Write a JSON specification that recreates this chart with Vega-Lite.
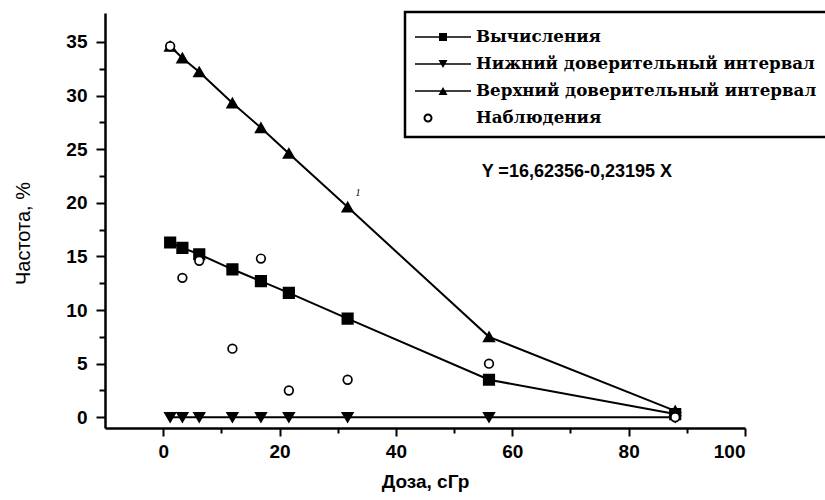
{
  "$schema": "https://vega.github.io/schema/vega-lite/v6.json",
  "width": 640,
  "height": 415,
  "autosize": {"type": "none"},
  "padding": {"left": 105, "top": 13, "right": 80, "bottom": 72},
  "background": "white",
  "config": {
    "view": {"stroke": null},
    "axis": {"grid": false, "domainColor": "black", "tickColor": "black", "labelColor": "black", "titleColor": "black"},
    "legend": {"strokeWidth": 2.5}
  },
  "datasets": {
    "series": [
      {"series": "Вычисления", "x": 1.2, "y": 16.3},
      {"series": "Вычисления", "x": 3.3, "y": 15.8},
      {"series": "Вычисления", "x": 6.2, "y": 15.2},
      {"series": "Вычисления", "x": 11.9, "y": 13.8},
      {"series": "Вычисления", "x": 16.8, "y": 12.7},
      {"series": "Вычисления", "x": 21.6, "y": 11.6},
      {"series": "Вычисления", "x": 31.7, "y": 9.2},
      {"series": "Вычисления", "x": 56, "y": 3.5},
      {"series": "Вычисления", "x": 88, "y": 0.3},
      {"series": "Нижний доверительный интервал", "x": 1.2, "y": 0},
      {"series": "Нижний доверительный интервал", "x": 3.3, "y": 0},
      {"series": "Нижний доверительный интервал", "x": 6.2, "y": 0},
      {"series": "Нижний доверительный интервал", "x": 11.9, "y": 0},
      {"series": "Нижний доверительный интервал", "x": 16.8, "y": 0},
      {"series": "Нижний доверительный интервал", "x": 21.6, "y": 0},
      {"series": "Нижний доверительный интервал", "x": 31.7, "y": 0},
      {"series": "Нижний доверительный интервал", "x": 56, "y": 0},
      {"series": "Нижний доверительный интервал", "x": 88, "y": 0},
      {"series": "Верхний доверительный интервал", "x": 1.2, "y": 34.6},
      {"series": "Верхний доверительный интервал", "x": 3.3, "y": 33.5},
      {"series": "Верхний доверительный интервал", "x": 6.2, "y": 32.2},
      {"series": "Верхний доверительный интервал", "x": 11.9, "y": 29.3},
      {"series": "Верхний доверительный интервал", "x": 16.8, "y": 27.0},
      {"series": "Верхний доверительный интервал", "x": 21.6, "y": 24.6},
      {"series": "Верхний доверительный интервал", "x": 31.7, "y": 19.6},
      {"series": "Верхний доверительный интервал", "x": 56, "y": 7.5},
      {"series": "Верхний доверительный интервал", "x": 88, "y": 0.6},
      {"series": "Наблюдения", "x": 1.2, "y": 34.6},
      {"series": "Наблюдения", "x": 3.3, "y": 13.0},
      {"series": "Наблюдения", "x": 6.2, "y": 14.6},
      {"series": "Наблюдения", "x": 11.9, "y": 6.4},
      {"series": "Наблюдения", "x": 16.8, "y": 14.8},
      {"series": "Наблюдения", "x": 21.6, "y": 2.5},
      {"series": "Наблюдения", "x": 31.7, "y": 3.5},
      {"series": "Наблюдения", "x": 56, "y": 5.0},
      {"series": "Наблюдения", "x": 88, "y": 0.0}
    ],
    "notes": [
      {"kind": "eq", "x": 71.1, "y": 22.9, "label": "Y =16,62356-0,23195 X"},
      {"kind": "mark", "x": 33.5, "y": 20.9, "label": "1"}
    ]
  },
  "encoding": {
    "x": {
      "field": "x", "type": "quantitative", "title": "Доза, сГр",
      "scale": {"domain": [-10, 100], "nice": false, "zero": false},
      "axis": {
        "values": [0, 10, 20, 30, 40, 50, 60, 70, 80, 90, 100],
        "labelExpr": "datum.value % 20 === 0 ? datum.label : ''",
        "domainWidth": 2.5,
        "tickWidth": 2,
        "tickSize": {"condition": {"test": "datum.value % 20 === 0", "value": 8}, "value": 5},
        "labelFont": "Liberation Sans", "labelFontWeight": "bold", "labelFontSize": 19,
        "labelPadding": 6,
        "titleFont": "Liberation Sans", "titleFontWeight": "bold", "titleFontSize": 19,
        "titlePadding": 11
      }
    },
    "y": {
      "field": "y", "type": "quantitative", "title": "Частота, %",
      "scale": {"domain": [-1, 37.7], "nice": false, "zero": false},
      "axis": {
        "values": [0, 2.5, 5, 7.5, 10, 12.5, 15, 17.5, 20, 22.5, 25, 27.5, 30, 32.5, 35],
        "labelExpr": "datum.value % 5 === 0 ? datum.label : ''",
        "domainWidth": 2.5,
        "tickWidth": 2,
        "tickSize": {"condition": {"test": "datum.value % 5 === 0", "value": 9}, "value": 6},
        "labelFont": "Liberation Sans", "labelFontWeight": "bold", "labelFontSize": 19,
        "labelPadding": 9,
        "titleFont": "Liberation Sans", "titleFontWeight": "normal", "titleFontSize": 20,
        "titleX": -72, "titleY": 220
      }
    }
  },
  "layer": [
    {
      "data": {"name": "series"},
      "transform": [{"filter": "datum.series !== 'Наблюдения'"}],
      "mark": {"type": "line", "color": "black", "strokeWidth": 2},
      "encoding": {"detail": {"field": "series"}}
    },
    {
      "data": {"name": "series"},
      "mark": {"type": "point", "filled": true, "stroke": "black", "strokeWidth": 1.7, "opacity": 1, "fillOpacity": 1},
      "encoding": {
        "shape": {
          "condition": [
            {"test": "datum.series === 'Вычисления'", "value": "square"},
            {"test": "datum.series === 'Нижний доверительный интервал'", "value": "triangle-down"},
            {"test": "datum.series === 'Верхний доверительный интервал'", "value": "triangle-up"}
          ],
          "value": "circle"
        },
        "fill": {"condition": {"test": "datum.series === 'Наблюдения'", "value": "white"}, "value": "black"},
        "size": {"condition": {"test": "datum.series === 'Наблюдения'", "value": 75}, "value": 110}
      }
    },
    {
      "data": {"name": "series"},
      "transform": [{"filter": "datum.x < -1000"}],
      "mark": {"type": "point", "filled": true, "color": "black", "strokeWidth": 0},
      "encoding": {
        "shape": {
          "field": "series", "type": "nominal",
          "scale": {
            "domain": ["Вычисления", "Нижний доверительный интервал", "Верхний доверительный интервал", "Наблюдения"],
            "range": [
              "M-1,-0.08H4.6V0.08H-1Z M1.4,-0.4H2.2V0.4H1.4Z",
              "M-1,-0.08H4.6V0.08H-1Z M1.35,-0.4H2.25L1.8,0.4Z",
              "M-1,-0.08H4.6V0.08H-1Z M1.8,-0.4L2.25,0.4H1.35Z",
              "M-0.15,0A0.45,0.45 0 1,1 0.75,0A0.45,0.45 0 1,1 -0.15,0Z M0.05,0A0.25,0.25 0 1,0 0.55,0A0.25,0.25 0 1,0 0.05,0Z"
            ]
          },
          "legend": {
            "title": " ",
            "titleFontSize": 1,
            "titlePadding": 4,
            "orient": "none",
            "legendX": 300,
            "legendY": -1,
            "padding": 10,
            "strokeColor": "black",
            "fillColor": "white",
            "symbolSize": 400,
            "symbolFillColor": "black",
            "symbolStrokeWidth": 0,
            "symbolOpacity": 1,
            "labelFont": "DejaVu Serif",
            "labelFontWeight": "bold",
            "labelFontSize": 16.7,
            "labelColor": "black",
            "labelOffset": 41,
            "labelLimit": 500,
            "rowPadding": 8
          }
        }
      }
    },
    {
      "data": {"name": "notes"},
      "transform": [{"filter": "datum.kind === 'eq'"}],
      "mark": {"type": "text", "font": "Liberation Sans", "fontWeight": "bold", "fontSize": 18, "align": "center", "baseline": "middle", "fill": "black"},
      "encoding": {"text": {"field": "label"}}
    },
    {
      "data": {"name": "notes"},
      "transform": [{"filter": "datum.kind === 'mark'"}],
      "mark": {"type": "text", "font": "Liberation Serif", "fontStyle": "italic", "fontSize": 10, "align": "center", "baseline": "middle", "fill": "black"},
      "encoding": {"text": {"field": "label"}}
    }
  ]
}
